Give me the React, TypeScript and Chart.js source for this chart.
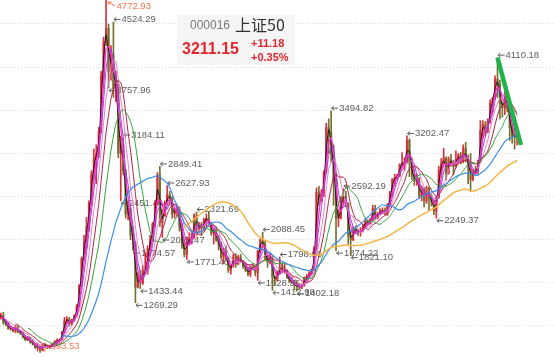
import React, { useEffect, useRef } from 'react';
import { Chart, registerables } from 'chart.js';

Chart.register(...registerables);

// Monthly bars, Jan 2004 (index 0) .. Oct 2021 (index 213)
const openP = [
  1000, 1070, 1110, 1120, 1040, 1030, 970, 975, 940, 990, 930, 920,
  870, 840, 860, 810, 790, 750, 760, 720, 780, 770, 750, 770,
  790, 820, 830, 840, 930, 1060, 1080, 1030, 1070, 1120, 1230, 1470,
  1780, 1980, 2150, 2420, 2750, 2950, 3000, 3250, 3900, 4300, 4450, 3950,
  4150, 3750, 3800, 3000, 3100, 2800, 2300, 2350, 2050, 1950, 1450, 1580,
  1500, 1650, 1650, 1900, 2000, 2180, 2420, 2750, 2200, 2280, 2420, 2520,
  2480, 2300, 2330, 2350, 2150, 1950, 1830, 2000, 2000, 2020, 2280, 2150,
  2150, 2130, 2230, 2250, 2190, 2080, 2100, 2000, 1950, 1800, 1860, 1780,
  1650, 1700, 1800, 1720, 1800, 1750, 1700, 1660, 1600, 1690, 1680, 1620,
  1870, 1990, 1960, 1790, 1740, 1800, 1560, 1540, 1620, 1680, 1640, 1640,
  1560, 1510, 1500, 1470, 1460, 1450, 1470, 1560, 1570, 1610, 1650, 1900,
  2550, 2480, 2540, 2780, 3300, 3250, 3000, 2700, 2250, 2250, 2480, 2500,
  2420, 2050, 2000, 2130, 2100, 2090, 2100, 2150, 2220, 2190, 2230, 2360,
  2250, 2300, 2330, 2340, 2300, 2400, 2540, 2700, 2720, 2740, 2870, 2890,
  2900, 3150, 2900, 2750, 2680, 2700, 2510, 2580, 2450, 2600, 2480, 2440,
  2330, 2490, 2810, 2880, 2950, 2770, 2930, 2890, 2850, 2930, 2980, 2910,
  3060, 2930, 2860, 2700, 2800, 2790, 2900, 3270, 3330, 3250, 3360, 3580,
  3640, 3860, 3800, 3580, 3530, 3660, 3520, 3300, 3200, 3190,
];
const highP = [
  1080, 1130, 1150, 1160, 1070, 1040, 990, 985, 1010, 1000, 950, 930,
  880, 880, 870, 840, 800, 800, 770, 790, 800, 780, 780, 800,
  830, 850, 850, 940, 1100, 1110, 1100, 1080, 1130, 1250, 1480, 1800,
  2050, 2260, 2450, 2800, 3050, 3100, 3300, 3950, 4350, 4772.93, 4500, 4250,
  4524.29, 3950, 3850, 3200, 3184.11, 2820, 2450, 2370, 2150, 1980, 1620, 1640,
  1700, 1850, 1930, 2050, 2200, 2450, 2780, 2849.41, 2350, 2450, 2627.93, 2560,
  2500, 2370, 2400, 2380, 2180, 2000, 2030, 2080, 2080, 2300, 2321.69, 2200,
  2200, 2250, 2300, 2330, 2200, 2120, 2150, 2050, 1970, 1900, 1930, 1800,
  1720, 1830, 1840, 1820, 1830, 1760, 1720, 1680, 1700, 1720, 1700, 1880,
  2010, 2088.45, 1990, 1820, 1830, 1810, 1580, 1640, 1798.96, 1730, 1720, 1650,
  1580, 1560, 1530, 1520, 1490, 1490, 1570, 1600, 1630, 1660, 1920, 2600,
  2620, 2580, 2800, 3350, 3400, 3494.82, 3100, 2750, 2350, 2500, 2592.19, 2560,
  2430, 2100, 2150, 2160, 2120, 2140, 2180, 2250, 2230, 2250, 2400, 2400,
  2320, 2360, 2370, 2370, 2420, 2560, 2710, 2760, 2760, 2880, 3010, 2950,
  3202.47, 3170, 2950, 2820, 2760, 2720, 2620, 2600, 2620, 2610, 2530, 2460,
  2500, 2850, 2940, 3060, 2960, 2960, 2990, 2920, 3030, 3000, 3010, 3100,
  3130, 2980, 3000, 2820, 2850, 2920, 3380, 3380, 3370, 3400, 3620, 3650,
  3900, 4110.18, 3850, 3600, 3720, 3700, 3560, 3350, 3330, 3280,
];
const lowP = [
  990, 1060, 1080, 1020, 1000, 960, 950, 930, 920, 920, 900, 860,
  830, 830, 800, 780, 740, 710, 693.53, 715, 760, 740, 740, 765,
  785, 800, 810, 835, 920, 1030, 1000, 1010, 1050, 1110, 1220, 1460,
  1760, 1900, 2100, 2400, 2700, 2650, 2950, 3240, 3850, 4250, 3757.96, 3850,
  3650, 3600, 2950, 2451.46, 2750, 2250, 2230, 2000, 1874.57, 1269.29, 1440, 1433.44,
  1480, 1600, 1600, 1880, 1980, 2150, 2400, 2150, 2025.47, 2270, 2400, 2400,
  2250, 2250, 2270, 2100, 1900, 1800, 1771.46, 1960, 1950, 2010, 2050, 2080,
  2050, 2100, 2150, 2180, 2050, 1950, 1980, 1880, 1780, 1720, 1760, 1620,
  1600, 1680, 1680, 1710, 1740, 1670, 1630, 1580, 1570, 1650, 1580, 1528.35,
  1850, 1900, 1770, 1680, 1720, 1412.98, 1470, 1520, 1600, 1620, 1610, 1550,
  1500, 1490, 1420, 1402.18, 1420, 1430, 1460, 1530, 1560, 1590, 1640, 1880,
  2400, 2440, 2500, 2770, 3000, 2900, 2400, 1874.22, 2150, 2240, 2400, 2380,
  1950, 1821.1, 1990, 2080, 2050, 2040, 2090, 2140, 2170, 2180, 2220, 2230,
  2240, 2290, 2300, 2290, 2280, 2390, 2510, 2620, 2690, 2730, 2840, 2800,
  2890, 2730, 2700, 2630, 2630, 2480, 2450, 2380, 2420, 2330, 2390, 2290,
  2249.37, 2480, 2720, 2840, 2690, 2760, 2850, 2750, 2840, 2880, 2880, 2890,
  2900, 2650, 2560, 2680, 2750, 2760, 2900, 3180, 3200, 3240, 3350, 3480,
  3630, 3650, 3400, 3420, 3450, 3480, 3150, 3120, 3050, 3100,
];
const closeP = [
  1070, 1110, 1120, 1040, 1030, 970, 975, 940, 990, 930, 920, 870,
  840, 860, 810, 790, 750, 760, 720, 780, 770, 750, 770, 790,
  820, 830, 840, 930, 1060, 1080, 1030, 1070, 1120, 1230, 1470, 1780,
  1980, 2150, 2420, 2750, 2950, 3000, 3250, 3900, 4300, 4450, 3950, 4150,
  3750, 3800, 3000, 3100, 2800, 2300, 2350, 2050, 1950, 1450, 1580, 1500,
  1650, 1650, 1900, 2000, 2180, 2420, 2750, 2200, 2280, 2420, 2520, 2480,
  2300, 2330, 2350, 2150, 1950, 1830, 2000, 2000, 2020, 2280, 2150, 2150,
  2130, 2230, 2250, 2190, 2080, 2100, 2000, 1950, 1800, 1860, 1780, 1650,
  1700, 1800, 1720, 1800, 1750, 1700, 1660, 1600, 1690, 1680, 1620, 1870,
  1990, 1960, 1790, 1740, 1800, 1560, 1540, 1620, 1680, 1640, 1640, 1560,
  1510, 1500, 1470, 1460, 1450, 1470, 1560, 1570, 1610, 1650, 1900, 2550,
  2480, 2540, 2780, 3300, 3250, 3000, 2700, 2250, 2250, 2480, 2500, 2420,
  2050, 2000, 2130, 2100, 2090, 2100, 2150, 2220, 2190, 2230, 2360, 2250,
  2300, 2330, 2340, 2300, 2400, 2540, 2700, 2720, 2740, 2870, 2890, 2900,
  3150, 2900, 2750, 2680, 2700, 2510, 2580, 2450, 2600, 2480, 2440, 2330,
  2490, 2810, 2880, 2950, 2770, 2930, 2890, 2850, 2930, 2980, 2910, 3060,
  2930, 2860, 2700, 2800, 2790, 2900, 3270, 3330, 3250, 3360, 3580, 3640,
  3860, 3800, 3580, 3530, 3660, 3520, 3300, 3200, 3190, 3211.15,
];

// Moving-average periods (months), colours and widths
const maPeriods = [2, 3, 4, 6, 9, 14, 28, 58];
const maColors = ['#141414', '#ff2ad4', '#9a3fd0', '#f07ac0', '#b01c3c', '#2f9f33', '#3a8ee6', '#f6b545'];
const maWidths = [1, 1.3, 1, 1, 1, 1, 1.2, 1.5];
const maFirstShown = [0, 0, 0, 0, 0, 0, 0, 77];

// Annotated extremes: bar index, value, kind
const markIdx = [45, 18, 48, 46, 52, 51, 56, 57, 59, 67, 68, 70, 78, 82, 107, 109, 113, 116, 123, 137, 139, 142, 145, 168, 180, 205];
const markVal = [4772.93, 693.53, 4524.29, 3757.96, 3184.11, 2451.46, 1874.57, 1269.29, 1433.44, 2849.41, 2025.47, 2627.93, 1771.46, 2321.69, 1528.35, 2088.45, 1412.98, 1798.96, 1402.18, 3494.82, 1874.22, 2592.19, 1821.1, 3202.47, 2249.37, 4110.18];
const markKind = ['max', 'min', 'h', 'l', 'h', 'l', 'l', 'l', 'l', 'h', 'l', 'h', 'l', 'h', 'l', 'h', 'l', 'h', 'l', 'h', 'l', 'h', 'l', 'h', 'l', 'h'];

// Hand-drawn trend line (from the 2021 high)
const trendIdx = [205, 214.6];
const trendVal = [4110.18, 3098];

// Horizontal grid values
const gridValues = [1000, 1500, 2000, 2500, 3000, 3500, 4000, 4500];

// Quote box
const quoteCode = '000016';
const quoteName = '上证50';
const quoteLast = 3211.15;
const quoteChange = 11.18;
const quotePct = 0.35;

const X_MIN = 1.64;
const X_MAX = 228.1;
const Y_MIN = 640.7;
const Y_MAX = 4778.1;

const UP = '#d8323f';
const DOWN = '#757030';
const LABEL = '#5e5e5e';
const EXTREME = '#f0784a';
const RED = '#e3262e';

function sma(src: number[], n: number, from: number) {
  const out: { x: number; y: number }[] = [];
  let sum = 0;
  for (let i = 0; i < src.length; i++) {
    sum += src[i];
    if (i >= n) sum -= src[i - n];
    if (i >= n - 1 && i >= from) out.push({ x: i, y: sum / n });
  }
  return out;
}

const markPlugin = {
  id: 'extremeMarks',
  beforeDatasetsDraw(chart: any) {
    const { ctx } = chart;
    const xs = chart.scales.x;
    const ys = chart.scales.y;
    ctx.save();
    ctx.font = '9.5px "Liberation Sans", Arial, sans-serif';
    ctx.textBaseline = 'middle';
    ctx.lineWidth = 1;
    markIdx.forEach((bi, k) => {
      const v = markVal[k];
      const kind = markKind[k];
      const px = xs.getPixelForValue(bi);
      const py = ys.getPixelForValue(v);
      const text = v.toFixed(2);
      if (kind === 'max' || kind === 'min') {
        const dir = kind === 'max' ? 1 : -1;
        const sx = px + 2;
        const sy = py + dir * 1.5;
        const ex = px + 9;
        const ey = py + dir * 5.5;
        ctx.strokeStyle = EXTREME;
        ctx.fillStyle = EXTREME;
        ctx.beginPath();
        ctx.moveTo(sx, sy);
        ctx.lineTo(ex, ey);
        ctx.moveTo(sx, sy);
        ctx.lineTo(sx + 3.5, sy);
        ctx.moveTo(sx, sy);
        ctx.lineTo(sx + 1, sy + dir * 3);
        ctx.stroke();
        ctx.fillText(text, px + 10.5, py + dir * 6);
      } else {
        const ty = kind === 'h' ? py - 2.5 : py + 2.5;
        ctx.strokeStyle = LABEL;
        ctx.fillStyle = LABEL;
        ctx.beginPath();
        ctx.moveTo(px + 0.5, ty);
        ctx.lineTo(px + 7, ty);
        ctx.moveTo(px + 0.5, ty);
        ctx.lineTo(px + 3, ty - 2);
        ctx.moveTo(px + 0.5, ty);
        ctx.lineTo(px + 3, ty + 2);
        ctx.stroke();
        ctx.fillText(text, px + 8, ty);
      }
    });
    ctx.restore();
  },
};

export default function App() {
  const ref = useRef<HTMLCanvasElement | null>(null);

  useEffect(() => {
    document.body.style.margin = '0';
    const canvas = ref.current;
    if (!canvas) return;
    const idx = closeP.map((_, i) => i);
    const colors = closeP.map((c, i) => (c >= openP[i] ? UP : DOWN));

    const maSets = maPeriods.map((p, k) => ({
      type: 'line' as const,
      data: sma(closeP, p, maFirstShown[k]),
      borderColor: maColors[k],
      borderWidth: maWidths[k],
      pointRadius: 0,
      tension: 0.2,
      fill: false,
      order: 10 - k,
    }));

    const chart = new Chart(canvas, {
      type: 'line',
      data: {
        datasets: [
          {
            type: 'line',
            data: trendIdx.map((x, i) => ({ x, y: trendVal[i] })),
            borderColor: '#21b24b',
            borderWidth: 4.5,
            pointRadius: 0,
            fill: false,
            order: 0,
          } as any,
          ...maSets,
          {
            type: 'bar',
            data: idx.map((i) => ({ x: i, y: [openP[i], closeP[i]] })),
            backgroundColor: colors,
            borderWidth: 0,
            barThickness: 1.5,
            grouped: false,
            minBarLength: 1,
            order: 19,
          } as any,
          {
            type: 'bar',
            data: idx.map((i) => ({ x: i, y: [lowP[i], highP[i]] })),
            backgroundColor: colors,
            borderWidth: 0,
            barThickness: 1,
            grouped: false,
            order: 20,
          } as any,
        ],
      },
      options: {
        responsive: false,
        animation: false,
        events: [],
        layout: { padding: 0 },
        plugins: { legend: { display: false }, tooltip: { enabled: false } },
        scales: {
          x: { type: 'linear', min: X_MIN, max: X_MAX, display: false, offset: false },
          y: {
            type: 'linear',
            min: Y_MIN,
            max: Y_MAX,
            afterBuildTicks: (s: any) => {
              s.ticks = gridValues.map((v) => ({ value: v }));
            },
            ticks: { display: false },
            grid: { color: '#dcdcdc', lineWidth: 1, drawTicks: false },
            border: { display: false, dash: [1, 2] },
          },
        },
      } as any,
      plugins: [markPlugin],
    });
    return () => chart.destroy();
  }, []);

  const sign = quoteChange >= 0 ? '+' : '';
  return (
    <div style={{ position: 'relative', width: 554, height: 357, background: '#fff', overflow: 'hidden' }}>
      <canvas ref={ref} width={554} height={357} style={{ display: 'block' }} />
      <div style={{ position: 'absolute', left: 177, top: 15, width: 118, height: 50, background: '#f5f5f5' }} />
      <span style={{ position: 'absolute', left: 190, top: 19, fontSize: 12, lineHeight: '12px', color: '#7a7a7a', fontFamily: '"Liberation Sans", Arial, sans-serif' }}>
        {quoteCode}
      </span>
      <span style={{ position: 'absolute', left: 235, top: 16, fontSize: 16, lineHeight: '16px', color: '#333', fontFamily: '"Noto Sans CJK SC", sans-serif' }}>
        {quoteName}
      </span>
      <span style={{ position: 'absolute', left: 182, top: 41, fontSize: 16, lineHeight: '16px', fontWeight: 'bold', color: RED, fontFamily: '"Liberation Sans", Arial, sans-serif' }}>
        {quoteLast.toFixed(2)}
      </span>
      <span style={{ position: 'absolute', left: 251, top: 37.5, fontSize: 11, lineHeight: '11px', fontWeight: 'bold', color: RED, fontFamily: '"Liberation Sans", Arial, sans-serif' }}>
        {sign + quoteChange.toFixed(2)}
      </span>
      <span style={{ position: 'absolute', left: 251, top: 51.5, fontSize: 11, lineHeight: '11px', fontWeight: 'bold', color: RED, fontFamily: '"Liberation Sans", Arial, sans-serif' }}>
        {sign + quotePct.toFixed(2) + '%'}
      </span>
    </div>
  );
}
